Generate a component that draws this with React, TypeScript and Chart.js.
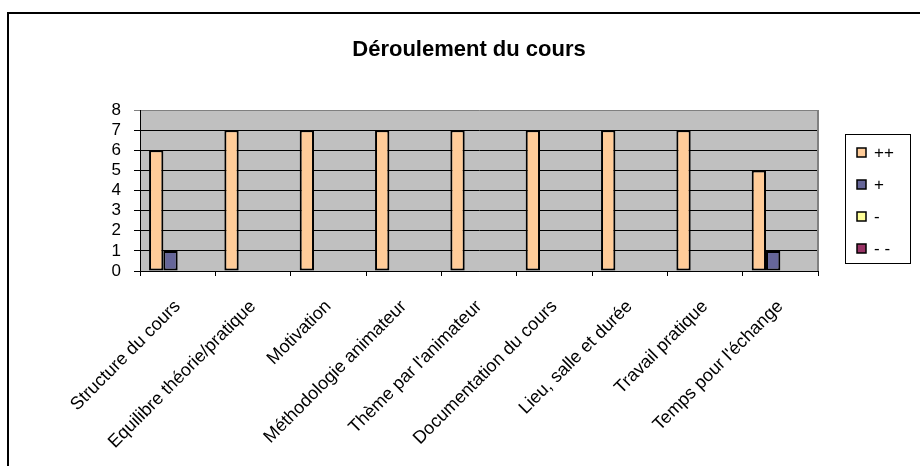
import React, { useEffect, useRef } from "react";
import { Chart, registerables } from "chart.js";

Chart.register(...registerables);

const chartTitle = "Déroulement du cours";
const categories = [
  "Structure du cours",
  "Equilibre théorie/pratique",
  "Motivation",
  "Méthodologie animateur",
  "Thème par l'animateur",
  "Documentation du cours",
  "Lieu, salle et durée",
  "Travail pratique",
  "Temps pour l'échange",
];
const seriesLabels = ["++", "+", "-", "- -"];
const seriesPlusPlus = [6, 7, 7, 7, 7, 7, 7, 7, 5];
const seriesPlus = [1, 0, 0, 0, 0, 0, 0, 0, 1];
const seriesMinus = [0, 0, 0, 0, 0, 0, 0, 0, 0];
const seriesMinusMinus = [0, 0, 0, 0, 0, 0, 0, 0, 0];
const yMin = 0;
const yMax = 8;
const yStep = 1;

const seriesColors = ["#FFCC99", "#666699", "#FFFF99", "#993366"];
const FONT = "Arial, 'Liberation Sans', sans-serif";

const decorPlugin = {
  id: "decor",
  beforeDraw(chart: any) {
    const { ctx, chartArea, width, height } = chart;
    ctx.save();
    ctx.fillStyle = "#FFFFFF";
    ctx.fillRect(0, 0, width, height);
    // outer frame
    ctx.strokeStyle = "#000000";
    ctx.lineWidth = 2;
    ctx.strokeRect(8, 13, width + 20, height + 20);
    // plot background
    ctx.fillStyle = "#C0C0C0";
    ctx.fillRect(chartArea.left, chartArea.top, chartArea.right - chartArea.left, chartArea.bottom - chartArea.top);
    ctx.restore();
  },
  beforeDatasetsDraw(chart: any) {
    const { ctx, chartArea } = chart;
    ctx.save();
    ctx.strokeStyle = "#808080";
    ctx.lineWidth = 2;
    ctx.beginPath();
    ctx.moveTo(chartArea.right, chartArea.top);
    ctx.lineTo(chartArea.right, chartArea.bottom);
    ctx.stroke();
    ctx.restore();
  },
  afterDraw(chart: any) {
    const { ctx } = chart;
    ctx.save();
    // title
    ctx.fillStyle = "#000000";
    ctx.font = `bold 22px ${FONT}`;
    ctx.textAlign = "center";
    ctx.textBaseline = "alphabetic";
    ctx.fillText(chartTitle, 469, 56);
    // legend
    const bx = 845, by = 134, bw = 65, bh = 129;
    ctx.strokeStyle = "#000000";
    ctx.lineWidth = 1;
    ctx.strokeRect(bx + 0.5, by + 0.5, bw, bh);
    ctx.font = `17px ${FONT}`;
    ctx.textAlign = "left";
    ctx.textBaseline = "middle";
    chart.data.datasets.forEach((ds: any, i: number) => {
      const cy = 152 + i * 32;
      ctx.fillStyle = ds.backgroundColor;
      ctx.fillRect(857, cy - 4, 9, 9);
      ctx.lineWidth = 1.5;
      ctx.strokeStyle = "#000000";
      ctx.strokeRect(857, cy - 4, 9, 9);
      ctx.fillStyle = "#000000";
      ctx.fillText(ds.label, 874, cy + 1);
    });
    ctx.restore();
  },
};

export default function App() {
  const canvasRef = useRef<HTMLCanvasElement | null>(null);

  useEffect(() => {
    if (!canvasRef.current) return;
    const allSeries = [seriesPlusPlus, seriesPlus, seriesMinus, seriesMinusMinus];
    const chart = new Chart(canvasRef.current, {
      type: "bar",
      data: {
        labels: categories,
        datasets: allSeries.map((values, i) => ({
          label: seriesLabels[i],
          data: values,
          backgroundColor: seriesColors[i],
          borderColor: "#000000",
          borderWidth: 2,
          borderSkipped: false,
          categoryPercentage: 0.76,
          barPercentage: 1,
        })),
      },
      options: {
        responsive: false,
        animation: false,
        devicePixelRatio: 1,
        layout: { padding: { top: 110, right: 102, left: 0, bottom: 0 } },
        plugins: {
          legend: { display: false },
          title: { display: false },
          tooltip: { enabled: false },
        },
        scales: {
          x: {
            afterFit: (scale: any) => {
              scale.height = 195;
            },
            grid: {
              offset: true,
              drawOnChartArea: false,
              drawTicks: true,
              tickLength: 5,
              color: "#000000",
            },
            border: { display: true, color: "#000000", width: 1 },
            ticks: {
              autoSkip: false,
              minRotation: 45,
              maxRotation: 45,
              padding: 20,
              color: "#000000",
              font: { family: FONT, size: 18 },
            },
          },
          y: {
            min: yMin,
            max: yMax,
            afterFit: (scale: any) => {
              scale.width = 140;
            },
            grid: {
              color: (c: any) => (c.tick && c.tick.value === yMax ? "#808080" : "#000000"),
              lineWidth: 1,
              drawTicks: true,
              tickLength: 6,
            },
            border: { display: true, color: "#000000", width: 1 },
            ticks: {
              stepSize: yStep,
              count: 9,
              autoSkip: false,
              padding: 13,
              color: "#000000",
              font: { family: FONT, size: 17, lineHeight: 1 },
            },
          },
        },
      },
      plugins: [decorPlugin],
    });
    return () => chart.destroy();
  }, []);

  return (
    <div style={{ position: "fixed", left: 0, top: 0, width: 920, height: 466 }}>
      <canvas ref={canvasRef} width={920} height={466} style={{ width: 920, height: 466, display: "block" }} />
    </div>
  );
}
